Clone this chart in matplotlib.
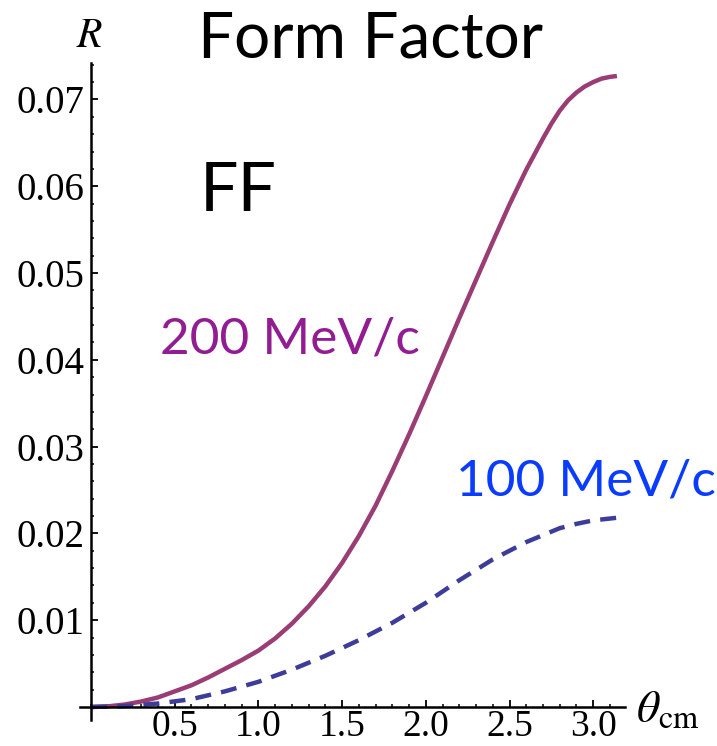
import numpy as np
import matplotlib
matplotlib.use("Agg")
import matplotlib.pyplot as plt
from matplotlib.ticker import MultipleLocator, FixedLocator

# Scattering angle (rad) and ratio R for the two beam momenta
theta_200 = [0.0, 0.1, 0.2, 0.3, 0.4, 0.5, 0.6, 0.7, 0.8, 0.9, 1.0,
             1.1, 1.2, 1.3, 1.4, 1.5, 1.6, 1.7, 1.8, 1.9, 2.0,
             2.1, 2.2, 2.3, 2.4, 2.5, 2.6, 2.7, 2.75, 2.8, 2.85, 2.9, 2.95,
             3.0, 3.05, 3.1, 3.1416]
r_200 = [0.0, 0.00007, 0.00028, 0.00063, 0.0011, 0.0018, 0.0025, 0.0034,
         0.0044, 0.0054, 0.0065, 0.0079, 0.0096, 0.0116, 0.0139, 0.0166,
         0.0197, 0.0232, 0.0272, 0.0314, 0.0358, 0.0403, 0.0448, 0.0492,
         0.0536, 0.0579, 0.0619, 0.0655, 0.0672, 0.0687, 0.0699, 0.0708,
         0.0715, 0.0720, 0.0724, 0.0726, 0.0727]

theta_100 = [0.0, 0.2, 0.4, 0.6, 0.8, 1.0, 1.2, 1.4, 1.6, 1.8, 2.0,
             2.2, 2.4, 2.6, 2.8, 2.9, 3.0, 3.1416]
r_100 = [0.0, 0.0001, 0.0004, 0.0009, 0.0018, 0.0029, 0.0043, 0.0059,
         0.0077, 0.0097, 0.0120, 0.0146, 0.0170, 0.0190, 0.0206, 0.0211,
         0.0215, 0.0218]

y_ticks = [0.01, 0.02, 0.03, 0.04, 0.05, 0.06, 0.07]
y_tick_labels = ["0.01", "0.02", "0.03", "0.04", "0.05", "0.06", "0.07"]
x_ticks = [0.5, 1.0, 1.5, 2.0, 2.5, 3.0]
x_tick_labels = ["0.5", "1.0", "1.5", "2.0", "2.5", "3.0"]

plt.rcParams["mathtext.fontset"] = "stix"

W, H = 717, 746
fig = plt.figure(figsize=(W / 100, H / 100), dpi=100)
ax = fig.add_axes([80 / W, 1 - 720 / H, 545 / W, 657 / H])

purple_line = "#993d74"
blue_line = "#3d3d99"

ax.plot(theta_200, r_200, color=purple_line, lw=3.2, solid_capstyle="butt",
        solid_joinstyle="round", zorder=3)
dashed, = ax.plot(theta_100, r_100, color=blue_line, lw=3.2, zorder=3)
dashed.set_dashes((3.6, 2.3))
dashed.set_dash_capstyle("butt")

ax.set_xlim(-0.066, 3.19)
ax.set_ylim(-0.0015, 0.0742)

for side in ("top", "right"):
    ax.spines[side].set_visible(False)
ax.spines["left"].set_position(("data", 0))
ax.spines["bottom"].set_position(("data", 0))
for side in ("left", "bottom"):
    ax.spines[side].set_linewidth(1.8)
    ax.spines[side].set_zorder(4)

serif = "Liberation Serif"
ax.yaxis.set_major_locator(FixedLocator(y_ticks))
ax.set_yticklabels(y_tick_labels, fontfamily=serif, fontsize=28)
ax.yaxis.set_minor_locator(MultipleLocator(0.002))
ax.xaxis.set_major_locator(FixedLocator(x_ticks))
ax.set_xticklabels(x_tick_labels, fontfamily=serif, fontsize=27)
ax.xaxis.set_minor_locator(MultipleLocator(0.1))

ax.tick_params(which="major", direction="in", length=5, width=1.3, pad=5)
ax.tick_params(which="minor", direction="in", length=2.5, width=1.1)
ax.tick_params(axis="x", which="major", pad=1.5)

ax.patch.set_alpha(0)

# Axis labels
fig.text(90 / W, 1 - 35 / H, r"$R$", fontsize=30, ha="center", va="center")
fig.text(636 / W, 1 - 722 / H, r"$\theta_{\mathrm{cm}}$", fontsize=33,
         ha="left", va="baseline")

sans = "Lato"
fig.text(371 / W, 1 - 58 / H, "Form Factor", fontfamily=sans, fontsize=46,
         ha="center", va="baseline", color="black")
fig.text(200 / W, 1 - 211 / H, "FF", fontfamily=sans, fontsize=49,
         ha="left", va="baseline", color="black")
fig.text(160 / W, 1 - 353 / H, "200 MeV/c", fontfamily=sans, fontsize=37,
         ha="left", va="baseline", color="#921c92")
fig.text(456 / W, 1 - 495 / H, "100 MeV/c", fontfamily=sans, fontsize=37,
         ha="left", va="baseline", color="#0a3cff")

fig.savefig("out.png", dpi=100, facecolor="white")
